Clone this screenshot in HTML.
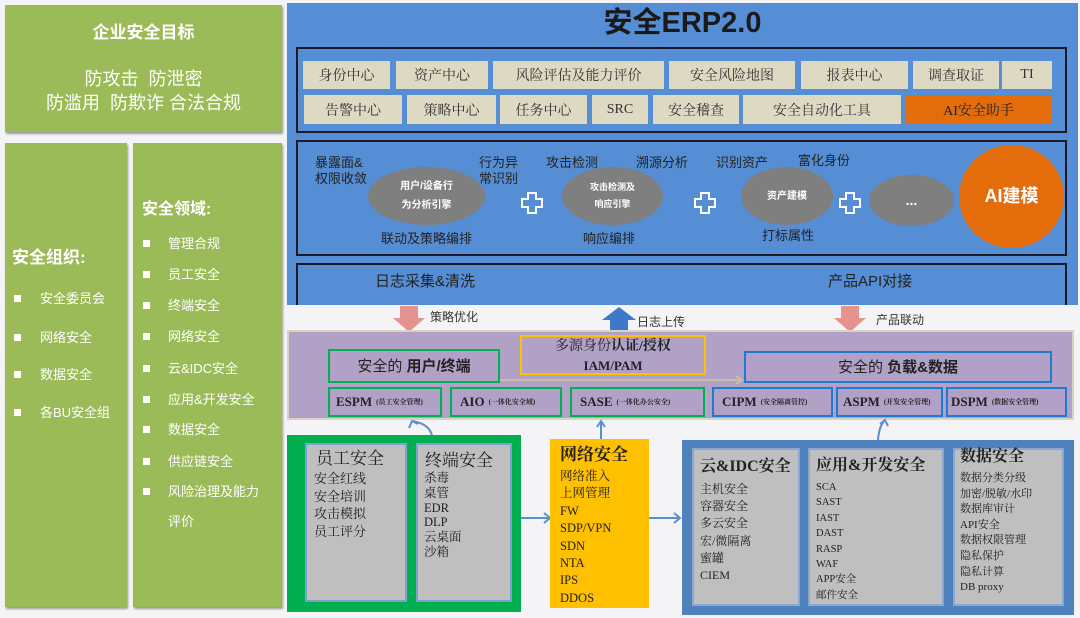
<!DOCTYPE html><html><head><meta charset="utf-8"><style>
*{margin:0;padding:0;box-sizing:border-box}
body{width:1080px;height:618px;background:#f4f4f6;position:relative;overflow:hidden;font-family:"Liberation Sans","Noto Sans CJK SC",sans-serif}
div{position:absolute}
.g{background:#9bbb59;box-shadow:1px 2px 2px #999}
.w{color:#fff;white-space:nowrap}
.t{white-space:nowrap;line-height:1}
.m{background:#ddd9c3;color:#333;font-size:14px;display:flex;align-items:center;justify-content:center;font-family:"Liberation Serif","Noto Serif CJK SC",serif}
.el{background:#7f7f7f;border-radius:50%;color:#fff;font-size:10px;font-weight:bold;display:flex;align-items:center;justify-content:center;text-align:center;line-height:1.9}
.lb{font-size:13px;color:#222;white-space:nowrap;line-height:1.2}
.sb{border:2px solid #00b050;font-family:"Liberation Serif","Noto Serif CJK SC",serif;font-weight:bold;font-size:13px;color:#222;display:flex;align-items:center;padding-left:8px;white-space:nowrap}
.sb small{font-size:7px;margin-left:4px}
.bb{border-color:#1f7bd0}
.gi{background:#bfbfbf;border:2px solid #7f9fd0}
.it{font-family:"Liberation Serif","Noto Serif CJK SC",serif;color:#222;white-space:nowrap}
.sq{width:7px;height:7px;background:#fff}
</style></head><body>
<!-- left -->
<div class="g" style="left:5px;top:5px;width:277px;height:127px"></div>
<div class="w t" style="left:5px;width:277px;text-align:center;top:24px;font-size:17px;font-weight:bold">企业安全目标</div>
<div class="w t" style="left:5px;width:277px;text-align:center;top:70px;font-size:18px">防攻击&nbsp; 防泄密</div>
<div class="w t" style="left:5px;width:277px;text-align:center;top:94px;font-size:18px">防滥用&nbsp; 防欺诈&nbsp;合法合规</div>
<div class="g" style="left:5px;top:143px;width:122px;height:464px"></div>
<div class="g" style="left:133px;top:143px;width:149px;height:464px"></div>
<div class="w t" style="left:12px;top:249px;font-size:17px;font-weight:bold">安全组织:</div>
<div class="sq" style="left:14px;top:295px"></div><div class="w t" style="left:40px;top:292px;font-size:13px">安全委员会</div>
<div class="sq" style="left:14px;top:334px"></div><div class="w t" style="left:40px;top:331px;font-size:13px">网络安全</div>
<div class="sq" style="left:14px;top:371px"></div><div class="w t" style="left:40px;top:368px;font-size:13px">数据安全</div>
<div class="sq" style="left:14px;top:409px"></div><div class="w t" style="left:40px;top:406px;font-size:13px">各BU安全组</div>
<div class="w t" style="left:142px;top:202px;font-size:16px;font-weight:bold">安全领域:</div>
<div class="sq" style="left:143px;top:240px"></div><div class="w t" style="left:168px;top:237px;font-size:13px">管理合规</div>
<div class="sq" style="left:143px;top:271px"></div><div class="w t" style="left:168px;top:268px;font-size:13px">员工安全</div>
<div class="sq" style="left:143px;top:302px"></div><div class="w t" style="left:168px;top:299px;font-size:13px">终端安全</div>
<div class="sq" style="left:143px;top:333px"></div><div class="w t" style="left:168px;top:330px;font-size:13px">网络安全</div>
<div class="sq" style="left:143px;top:365px"></div><div class="w t" style="left:168px;top:362px;font-size:13px">云&amp;IDC安全</div>
<div class="sq" style="left:143px;top:396px"></div><div class="w t" style="left:168px;top:393px;font-size:13px">应用&amp;开发安全</div>
<div class="sq" style="left:143px;top:426px"></div><div class="w t" style="left:168px;top:423px;font-size:13px">数据安全</div>
<div class="sq" style="left:143px;top:458px"></div><div class="w t" style="left:168px;top:455px;font-size:13px">供应链安全</div>
<div class="sq" style="left:143px;top:488px"></div><div class="w t" style="left:168px;top:485px;font-size:13px">风险治理及能力</div>
<div class="w t" style="left:168px;top:515px;font-size:13px">评价</div>

<!-- ERP panel -->
<div style="left:287px;top:3px;width:791px;height:302px;background:#558ed5"></div>
<div class="t" style="left:287px;width:791px;text-align:center;top:9px;font-size:29px;font-weight:bold;color:#1a1a1a">安全ERP2.0</div>
<div style="left:296px;top:47px;width:771px;height:86px;border:2px solid #1a1a2a"></div>
<div class="m" style="left:303px;top:61px;width:87px;height:28px">身份中心</div>
<div class="m" style="left:396px;top:61px;width:92px;height:28px">资产中心</div>
<div class="m" style="left:493px;top:61px;width:171px;height:28px">风险评估及能力评价</div>
<div class="m" style="left:669px;top:61px;width:126px;height:28px">安全风险地图</div>
<div class="m" style="left:801px;top:61px;width:107px;height:28px">报表中心</div>
<div class="m" style="left:913px;top:61px;width:86px;height:28px">调查取证</div>
<div class="m" style="left:1002px;top:61px;width:50px;height:28px">TI</div>
<div class="m" style="left:304px;top:95px;width:98px;height:29px">告警中心</div>
<div class="m" style="left:407px;top:95px;width:89px;height:29px">策略中心</div>
<div class="m" style="left:500px;top:95px;width:87px;height:29px">任务中心</div>
<div class="m" style="left:592px;top:95px;width:56px;height:29px">SRC</div>
<div class="m" style="left:653px;top:95px;width:86px;height:29px">安全稽查</div>
<div class="m" style="left:743px;top:95px;width:158px;height:29px">安全自动化工具</div>
<div class="m" style="left:905px;top:95px;width:147px;height:29px;background:#e46c0a;color:#222">AI安全助手</div>

<div style="left:296px;top:140px;width:771px;height:116px;border:2px solid #1a1a2a"></div>
<div class="lb" style="left:315px;top:155px">暴露面&amp;<br>权限收敛</div>
<div class="el" style="left:368px;top:167px;width:117px;height:58px">用户/设备行<br>为分析引擎</div>
<div class="lb" style="left:479px;top:155px">行为异<br>常识别</div>
<div class="lb" style="left:546px;top:155px">攻击检测</div>
<div class="el" style="left:562px;top:167px;width:101px;height:58px;font-size:9px">攻击检测及<br>响应引擎</div>
<div class="lb" style="left:636px;top:155px">溯源分析</div>
<div class="lb" style="left:716px;top:155px">识别资产</div>
<div class="lb" style="left:798px;top:153px">富化身份</div>
<div class="el" style="left:741px;top:167px;width:92px;height:58px">资产建模</div>
<div class="el" style="left:869px;top:175px;width:85px;height:51px;font-size:14px">...</div>
<div class="el" style="left:959px;top:145px;width:105px;height:103px;background:#e46c0a;font-size:18px">AI建模</div>
<svg style="position:absolute;left:0;top:0" width="1080" height="618">
<g fill="#558ed5" stroke="#fff" stroke-width="2">
<path d="M528,193 h8 v6 h6 v8 h-6 v6 h-8 v-6 h-6 v-8 h6 z"/>
<path d="M701,193 h8 v6 h6 v8 h-6 v6 h-8 v-6 h-6 v-8 h6 z"/>
<path d="M846,193 h8 v6 h6 v8 h-6 v6 h-8 v-6 h-6 v-8 h6 z"/>
</g></svg>
<div class="lb" style="left:381px;top:231px">联动及策略编排</div>
<div class="lb" style="left:583px;top:231px">响应编排</div>
<div class="lb" style="left:762px;top:228px">打标属性</div>
<div style="left:296px;top:263px;width:771px;height:42px;border:2px solid #1a1a2a;border-bottom:none"></div>
<div class="t" style="left:375px;top:274px;font-size:15px;color:#222">日志采集&amp;清洗</div>
<div class="t" style="left:828px;top:274px;font-size:15px;color:#222">产品API对接</div>

<svg style="position:absolute;left:0;top:0" width="1080" height="618">
<polygon points="400,306 418,306 418,318 425,318 409,332 393,318 400,318" fill="#e6928f"/>
<polygon points="841,306 859,306 859,318 866,318 850,332 834,318 841,318" fill="#e6928f"/>
<polygon points="610,332 628,332 628,320 636,320 619,307 602,320 610,320" fill="#3f78c8"/>
</svg>
<div class="t" style="left:430px;top:311px;font-size:12px;color:#333">策略优化</div>
<div class="t" style="left:637px;top:316px;font-size:12px;color:#333">日志上传</div>
<div class="t" style="left:876px;top:314px;font-size:12px;color:#333">产品联动</div>

<!-- purple band -->
<div style="left:287px;top:330px;width:787px;height:90px;background:#b2a1c7;border:2px solid #d9d3c6"></div>
<div class="t" style="left:328px;top:349px;width:172px;height:34px;border:2px solid #00b050;display:flex;align-items:center;justify-content:center;font-size:15px;color:#222">安全的&nbsp;<b>用户/终端</b></div>
<div style="left:520px;top:335px;width:186px;height:40px;border:2px solid #ffc000;text-align:center;font-size:14px;color:#222;line-height:19px;padding-top:0px;font-family:'Liberation Serif','Noto Serif CJK SC',serif">多源身份<b>认证/授权</b><br><b style="font-size:13px">IAM/PAM</b></div>
<div class="t" style="left:744px;top:351px;width:308px;height:32px;border:2px solid #1f7bd0;display:flex;align-items:center;justify-content:center;font-size:15px;color:#222">安全的&nbsp;<b>负载&amp;数据</b></div>
<svg style="position:absolute;left:0;top:0" width="1080" height="618">
<line x1="500" y1="380" x2="742" y2="380" stroke="#c8bfa8" stroke-width="2"/>
<polyline points="736,376 742,380 736,384" fill="none" stroke="#c8bfa8" stroke-width="2"/>
</svg>
<div class="sb" style="left:328px;top:387px;width:114px;height:30px;padding-left:6px">ESPM<small>(员工安全管理)</small></div>
<div class="sb" style="left:450px;top:387px;width:112px;height:30px">AIO<small>(一体化安全域)</small></div>
<div class="sb" style="left:570px;top:387px;width:135px;height:30px">SASE<small>(一体化办公安全)</small></div>
<div class="sb bb" style="left:712px;top:387px;width:121px;height:30px">CIPM<small>(安全隔离管控)</small></div>
<div class="sb bb" style="left:836px;top:387px;width:107px;height:30px;padding-left:5px">ASPM<small>(开发安全管理)</small></div>
<div class="sb bb" style="left:946px;top:387px;width:121px;height:30px;padding-left:3px">DSPM<small>(数据安全管理)</small></div>

<svg style="position:absolute;left:0;top:0" width="1080" height="618">
<g fill="none" stroke="#5b8fd0" stroke-width="2">
<path d="M432,436 Q430,424 412,421"/><polyline points="409,428 412,421 418,424"/>
<path d="M601,440 L601,421"/><polyline points="597,427 601,421 605,427"/>
<path d="M878,440 Q879,426 885,420"/><polyline points="880,424 885,420 888,426"/>
<path d="M521,518 L550,518"/><polyline points="544,513 550,518 544,523"/>
<path d="M649,518 L680,518"/><polyline points="674,513 680,518 674,523"/>
</g></svg>

<!-- bottom boxes -->
<div style="left:287px;top:435px;width:234px;height:177px;background:#00b050"></div>
<div class="gi" style="left:305px;top:443px;width:102px;height:159px"></div>
<div class="gi" style="left:416px;top:443px;width:96px;height:159px"></div>
<div class="it t" style="left:316px;top:450px;font-size:17px">员工安全</div>
<div class="it" style="left:314px;top:470px;font-size:13px;line-height:17.5px">安全红线<br>安全培训<br>攻击模拟<br>员工评分</div>
<div class="it t" style="left:425px;top:452px;font-size:17px">终端安全</div>
<div class="it" style="left:424px;top:471px;font-size:12.5px;line-height:14.8px">杀毒<br>桌管<br>EDR<br>DLP<br>云桌面<br>沙箱</div>

<div style="left:550px;top:439px;width:99px;height:169px;background:#ffc000"></div>
<div class="it t" style="left:560px;top:446px;font-size:17px;font-weight:bold">网络安全</div>
<div class="it" style="left:560px;top:468px;font-size:12.5px;line-height:17.4px">网络准入<br>上网管理<br>FW<br>SDP/VPN<br>SDN<br>NTA<br>IPS<br>DDOS</div>

<div style="left:682px;top:440px;width:392px;height:175px;background:#4f81bd"></div>
<div class="gi" style="left:692px;top:448px;width:108px;height:158px;border-color:#8aa8d0"></div>
<div class="gi" style="left:808px;top:448px;width:136px;height:158px;border-color:#8aa8d0"></div>
<div class="gi" style="left:953px;top:448px;width:111px;height:158px;border-color:#8aa8d0"></div>
<div class="it t" style="left:700px;top:459px;font-size:16px;font-weight:bold">云&amp;IDC安全</div>
<div class="it" style="left:700px;top:481px;font-size:12px;line-height:17.2px">主机安全<br>容器安全<br>多云安全<br>宏/微隔离<br>蜜罐<br>CIEM</div>
<div class="it t" style="left:816px;top:458px;font-size:16px;font-weight:bold">应用&amp;开发安全</div>
<div class="it" style="left:816px;top:480px;font-size:10.5px;line-height:15.4px">SCA<br>SAST<br>IAST<br>DAST<br>RASP<br>WAF<br>APP安全<br>邮件安全</div>
<div class="it t" style="left:960px;top:449px;font-size:16px;font-weight:bold">数据安全</div>
<div class="it" style="left:960px;top:471px;font-size:11px;line-height:15.6px">数据分类分级<br>加密/脱敏/水印<br>数据库审计<br>API安全<br>数据权限管理<br>隐私保护<br>隐私计算<br>DB proxy</div>
</body></html>
